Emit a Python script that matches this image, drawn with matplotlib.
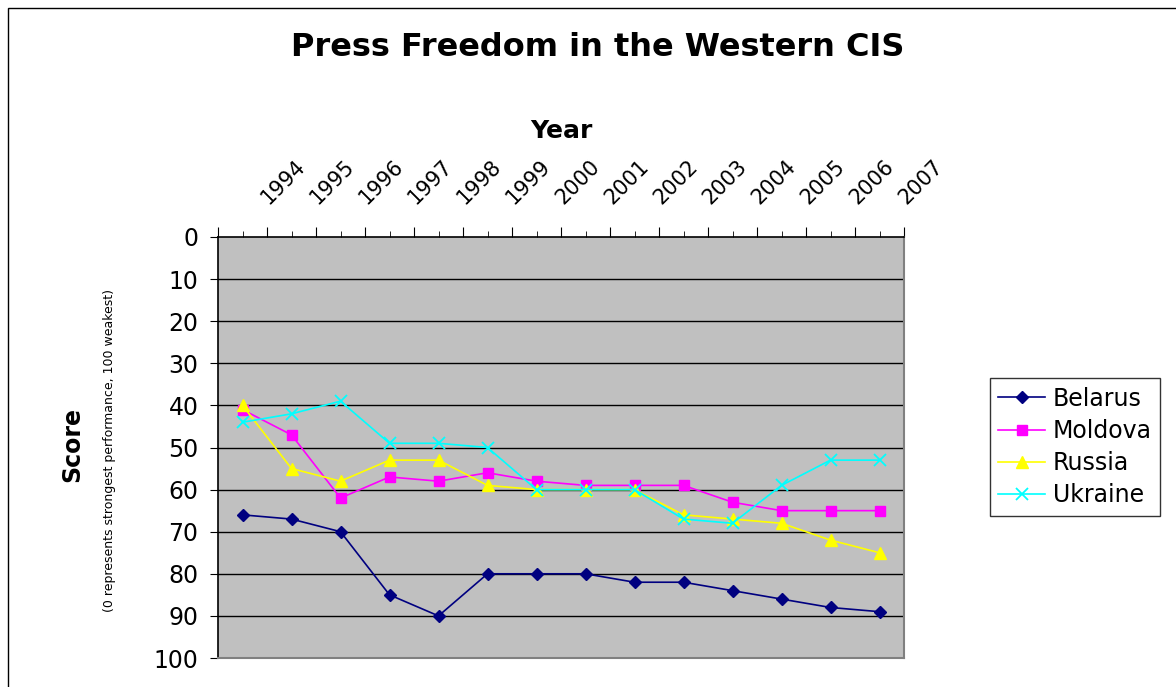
import matplotlib
matplotlib.use("Agg")
import matplotlib.pyplot as plt
from matplotlib.patches import Rectangle
import numpy as np

# data (score: 0 best, 100 worst)
years = ["1994", "1995", "1996", "1997", "1998", "1999", "2000",
         "2001", "2002", "2003", "2004", "2005", "2006", "2007"]
belarus = [66, 67, 70, 85, 90, 80, 80, 80, 82, 82, 84, 86, 88, 89]
moldova = [41, 47, 62, 57, 58, 56, 58, 59, 59, 59, 63, 65, 65, 65]
russia = [40, 55, 58, 53, 53, 59, 60, 60, 60, 66, 67, 68, 72, 75]
ukraine = [44, 42, 39, 49, 49, 50, 60, 60, 60, 67, 68, 59, 53, 53]

plt.rcParams['font.family'] = ['DejaVu Sans']

fig = plt.figure(figsize=(11.76, 6.87), dpi=100)
ax = fig.add_axes([218/1176, 1-658/687, (904-218)/1176, (658-237)/687])
ax.set_facecolor("#C0C0C0")

x = np.arange(len(years)) + 0.5

ax.plot(x, belarus, color="#000080", marker="D", markersize=6, lw=1.2, label="Belarus")
ax.plot(x, moldova, color="#FF00FF", marker="s", markersize=7, lw=1.2, label="Moldova")
ax.plot(x, russia, color="#FFFF00", marker="^", markersize=8, lw=1.2, label="Russia")
ax.plot(x, ukraine, color="#00FFFF", marker="x", markersize=9, mew=1.3, lw=1.2, label="Ukraine")

ax.set_xlim(0, len(years))
ax.set_ylim(100, 0)

# y axis
ax.set_yticks(range(0, 101, 10))
ax.tick_params(axis="y", direction="out", length=6, labelsize=17, pad=8, color="black")
for v in range(10, 100, 10):
    ax.axhline(v, color="black", lw=1, zorder=0.5)

# x axis on top: major ticks at category edges, minor at centres
ax.xaxis.tick_top()
ax.set_xticks(np.arange(0, len(years) + 1))
ax.set_xticks(x, minor=True)
ax.set_xticklabels([])
ax.tick_params(axis="x", which="major", direction="out", length=7, top=True, bottom=False)
ax.tick_params(axis="x", which="minor", direction="out", length=4, top=True, bottom=False)
for xi, yr in zip(x, years):
    ax.annotate(yr, xy=(xi, 1), xycoords=("data", "axes fraction"),
                xytext=(11, 21), textcoords="offset points",
                rotation=45, ha="left", va="bottom", fontsize=15)

for side in ["top", "left"]:
    ax.spines[side].set_color("black")
    ax.spines[side].set_linewidth(1.2)
for side in ["right", "bottom"]:
    ax.spines[side].set_color("#808080")
    ax.spines[side].set_linewidth(1.5)

fig.text(0.508, 1-47/687, "Press Freedom in the Western CIS", ha="center", va="center",
         fontsize=23, fontweight="bold")
fig.text(561/1176, 1-131/687, "Year", ha="center", va="center", fontsize=18, fontweight="bold")
fig.text(72/1176, 1-445/687, "Score", ha="center", va="center", rotation=90,
         fontsize=17, fontweight="bold")
fig.text(110/1176, 1-451/687, "(0 represents strongest performance, 100 weakest)",
         ha="center", va="center", rotation=90, fontsize=9)

leg = fig.legend(loc="center left", bbox_to_anchor=(990/1176, 1-447/687),
                 fontsize=17, frameon=True, fancybox=False, edgecolor="black",
                 handlelength=2.0, borderpad=0.35, labelspacing=0.35, handletextpad=0.3,
                 borderaxespad=0)
leg.get_frame().set_linewidth(1)

fig.patches.append(Rectangle((8/1176, -0.01), 1.1, 1-8/687+0.01, transform=fig.transFigure,
                             fill=False, edgecolor="black", lw=1))

fig.savefig("out.png", dpi=100)
